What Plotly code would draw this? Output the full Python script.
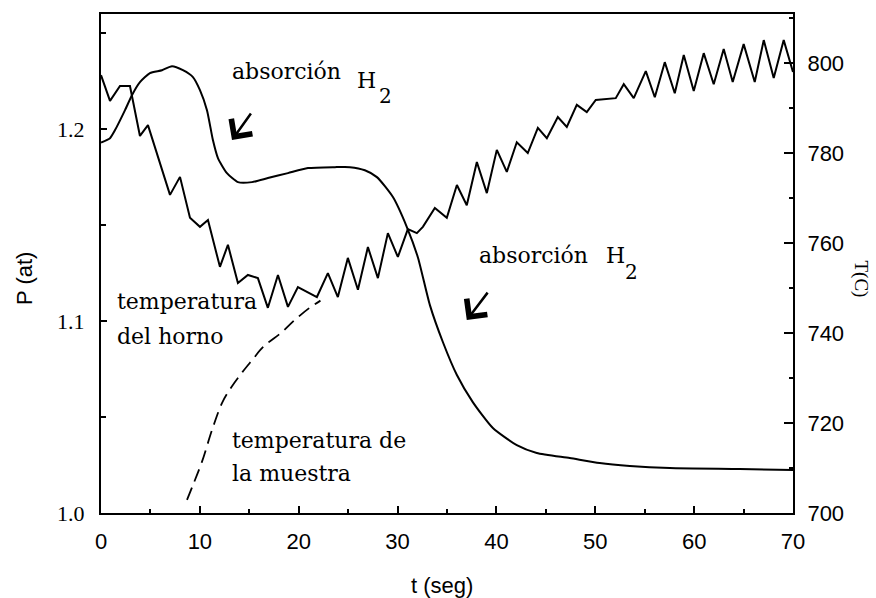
import plotly.graph_objects as go

# Pressure in the reaction chamber, P (at) -- left axis
t_pres = [0.0, 0.91, 1.42, 2.43, 3.13, 3.94, 4.95, 6.17, 7.18, 8.29, 9.30, 10.01,
          10.72, 11.32, 11.83, 12.74, 13.85, 15.27, 16.88, 18.91, 20.93, 23.66,
          25.18, 26.69, 27.91, 29.53, 30.94, 32.05, 33.27, 34.58, 36.0, 37.61,
          39.64, 42.06, 44.08, 47.42, 50.45, 53.49, 57.53, 64.61, 70.0]
p_pres = [1.193, 1.1953, 1.1995, 1.2099, 1.2177, 1.2245, 1.2292, 1.2307, 1.2328,
          1.2307, 1.2271, 1.2203, 1.2099, 1.1943, 1.1849, 1.1771, 1.1724, 1.1724,
          1.1745, 1.1771, 1.1797, 1.1802, 1.1802, 1.1786, 1.175, 1.1646, 1.149,
          1.1333, 1.1083, 1.0891, 1.0719, 1.0578, 1.0443, 1.0354, 1.0313, 1.0286,
          1.026, 1.0245, 1.0234, 1.0229, 1.0224]

# Furnace temperature, T (C) -- right axis
t_horno = [0.0, 0.91, 1.92, 2.93, 3.94, 4.75, 6.98, 7.99, 9.0, 10.01, 10.82, 12.03,
           12.84, 13.85, 14.86, 15.87, 16.88, 17.9, 18.91, 19.92, 21.84, 22.95,
           23.96, 24.97, 25.99, 27.0, 28.01, 29.02, 30.03, 31.04, 31.95, 32.56,
           33.77, 34.98, 36.0, 37.0, 38.02, 39.03, 40.04, 41.05, 42.06, 43.17,
           44.19, 45.1, 46.21, 47.12, 48.13, 49.14, 50.05, 52.07, 52.88, 53.89,
           55.11, 56.02, 57.03, 58.04, 58.95, 59.96, 60.97, 61.98, 62.99, 63.9,
           65.01, 66.13, 67.04, 68.05, 69.06, 70.0]
T_horno = [797.3, 791.6, 794.9, 794.9, 783.8, 786.2, 770.7, 774.7, 765.6, 763.6,
           765.1, 754.7, 759.6, 751.1, 752.9, 752.2, 745.6, 752.9, 745.8, 750.2,
           748.0, 753.3, 748.0, 756.7, 749.6, 759.1, 752.2, 762.2, 756.9, 763.1,
           762.2, 763.6, 767.8, 765.6, 772.9, 768.4, 778.0, 771.1, 780.7, 775.8,
           782.4, 780.0, 785.6, 783.3, 788.0, 785.8, 790.7, 789.1, 791.8, 792.2,
           795.3, 792.2, 798.2, 792.4, 800.2, 793.3, 801.8, 793.8, 802.2, 795.3,
           803.1, 795.8, 804.2, 795.8, 805.1, 796.7, 805.1, 798.0]

# Sample temperature, T (C) -- right axis
t_muestra = [8.7, 9.3, 10.2, 11.3, 12.3, 13.2, 14.3, 15.3, 16.4, 18.3, 19.6, 21.1, 22.2]
T_muestra = [702.9, 706.2, 711.3, 718.9, 724.7, 728.0, 731.3, 734.0, 736.9, 740.2,
             742.9, 745.6, 747.2]

x_ticks = [0, 10, 20, 30, 40, 50, 60, 70]
p_ticks = [1.0, 1.1, 1.2]
p_ticktext = ["1.0", "1.1", "1.2"]
T_ticks = [700, 720, 740, 760, 780, 800]

SERIF = "DejaVu Serif, Liberation Serif, serif"
TIMES = "Liberation Serif, Times New Roman, serif"
SANS = "Liberation Sans, Arial, sans-serif"

fig = go.Figure()
fig.add_trace(go.Scatter(x=t_pres, y=p_pres, mode="lines", yaxis="y",
                         line=dict(color="black", width=2, shape="spline", smoothing=0.6),
                         showlegend=False, hoverinfo="skip"))
fig.add_trace(go.Scatter(x=t_horno, y=T_horno, mode="lines", yaxis="y2",
                         line=dict(color="black", width=2),
                         showlegend=False, hoverinfo="skip"))
fig.add_trace(go.Scatter(x=t_muestra, y=T_muestra, mode="lines", yaxis="y2",
                         line=dict(color="black", width=1.8, dash="13px,7px", shape="spline"),
                         showlegend=False, hoverinfo="skip"))

axis_common = dict(showgrid=False, zeroline=False, showline=True, linecolor="black",
                   linewidth=2, ticks="inside", tickcolor="black", tickwidth=1.5)

fig.update_layout(
    width=876, height=598,
    margin=dict(l=101, r=83, t=14, b=85),
    paper_bgcolor="white", plot_bgcolor="white",
    xaxis=dict(range=[0, 70], tickvals=x_ticks, ticklen=7, mirror=True,
               tickfont=dict(family=SANS, size=22, color="black"),
               ticklabelstandoff=8,
               minor=dict(dtick=5, tick0=0, ticks="inside", ticklen=4, tickcolor="black"),
               **axis_common),
    yaxis=dict(range=[1.0, 1.26], tickvals=p_ticks, ticktext=p_ticktext, ticklen=6,
               tickfont=dict(family=TIMES, size=22, color="black"),
               ticklabelstandoff=10,
               minor=dict(dtick=0.05, tick0=1.0, ticks="inside", ticklen=5, tickcolor="black"),
               **axis_common),
    yaxis2=dict(range=[700, 810.9], tickvals=T_ticks, ticklen=9, overlaying="y", side="right",
                tickfont=dict(family=SANS, size=22, color="black"),
                ticklabelstandoff=8,
                minor=dict(dtick=10, tick0=700, ticks="inside", ticklen=4, tickcolor="black"),
                **axis_common),
)

def label(text, x, y, size=22, family=SERIF, xanchor="left", yref="y"):
    fig.add_annotation(text=text, x=x, y=y, xref="x", yref=yref, showarrow=False,
                       xanchor=xanchor, yanchor="middle",
                       font=dict(family=family, size=size, color="black"))

# absorption labels with H2
label("absorción", 13.04, 1.2302)
label("H", 25.68, 1.2255)
label("2", 27.9, 1.2172, size=20)
label("absorción", 38.02, 1.1344)
label("H", 50.86, 1.1344)
label("2", 52.78, 1.1255, size=20)

# curve labels
label("temperatura", 1.42, 1.1102)
label("del horno", 1.42, 1.0922)
label("temperatura de", 13.04, 1.038)
label("la muestra", 13.04, 1.0208)

# arrows pointing at the absorption steps
for tx, ty, ax, ay in [(13.25, 1.1943, 20, -28), (37.0, 1.1005, 22, -29)]:
    fig.add_annotation(x=tx, y=ty, xref="x", yref="y", text="", showarrow=True,
                       ax=ax, ay=ay, arrowhead=4, arrowsize=2.0, arrowwidth=2.5,
                       arrowcolor="black", standoff=0)

# axis titles
fig.add_annotation(text="P (at)", x=-0.1098, y=0.469, xref="paper", yref="paper",
                   showarrow=False, textangle=-90, xanchor="center", yanchor="middle",
                   font=dict(family=SANS, size=22, color="black"))
fig.add_annotation(text="T(C)", x=1.099, y=0.469, xref="paper", yref="paper",
                   showarrow=False, textangle=90, xanchor="center", yanchor="middle",
                   font=dict(family=TIMES, size=19, color="black"))
fig.add_annotation(text="t (seg)", x=0.4928, y=-0.1443, xref="paper", yref="paper",
                   showarrow=False, xanchor="center", yanchor="middle",
                   font=dict(family=SANS, size=22, color="black"))

fig.write_html("out.html")
